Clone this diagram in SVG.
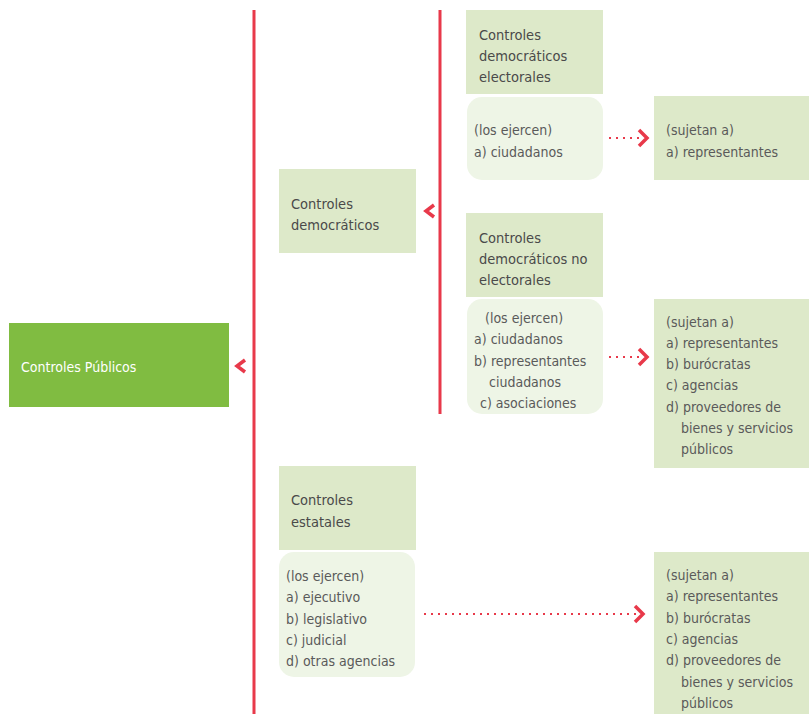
<svg xmlns="http://www.w3.org/2000/svg" width="809" height="714" viewBox="0 0 809 714">
<style>
.t{font-family:"DejaVu Sans Condensed","Liberation Sans Narrow",sans-serif;font-size:14px;fill:#5a5a5a}
.h{fill:#4a4a4a;font-size:14.5px}
.w{fill:#ffffff}
.hd{fill:#dde9c9}
.bd{fill:#eef5e6}
.vl{stroke:#e8394a;stroke-width:3;fill:none}
.dot{stroke:#e8394a;stroke-width:2;stroke-dasharray:2 5;fill:none}
.chev{stroke:#e8394a;stroke-width:3.5;fill:none}
</style>
<rect width="809" height="714" fill="#ffffff"/>
<g id="connectors">
<line class="vl" x1="254" y1="10" x2="254" y2="714"/>
<line class="vl" x1="440" y1="10" x2="440" y2="414"/>
<polyline class="chev" points="245,360 237,366 245,372"/>
<polyline class="chev" points="434,205 426,211 434,217"/>
<line class="dot" x1="609" y1="138" x2="644" y2="138"/>
<polyline class="chev" points="639,130 647,138 639,146"/>
<line class="dot" x1="609" y1="357" x2="644" y2="357"/>
<polyline class="chev" points="639,349 647,357 639,365"/>
<line class="dot" x1="424" y1="614" x2="640" y2="614"/>
<polyline class="chev" points="635,606 643,614 635,622"/>
</g>
<g id="publicos">
<rect x="9" y="323" width="220" height="84" fill="#80bc41"/>
<text class="t w" x="21" y="372">Controles Públicos</text>
</g>
<g id="democraticos">
<rect class="hd" x="279" y="169" width="137" height="84"/>
<text class="t h" x="291" y="209">Controles</text>
<text class="t h" x="291" y="230">democráticos</text>
</g>
<g id="electorales">
<rect class="hd" x="466" y="10" width="137" height="84"/>
<text class="t h" x="479" y="40">Controles</text>
<text class="t h" x="479" y="61">democráticos</text>
<text class="t h" x="479" y="82">electorales</text>
</g>
<g id="electorales-ejercen">
<rect class="bd" x="467" y="97" width="136" height="83" rx="15"/>
<text class="t" x="474" y="135">(los ejercen)</text>
<text class="t" x="474" y="157">a) ciudadanos</text>
</g>
<g id="electorales-sujetan">
<rect class="hd" x="654" y="96" width="155" height="84"/>
<text class="t" x="666" y="135">(sujetan a)</text>
<text class="t" x="666" y="157">a) representantes</text>
</g>
<g id="noelectorales">
<rect class="hd" x="466" y="213" width="137" height="84"/>
<text class="t h" x="479" y="243">Controles</text>
<text class="t h" x="479" y="264">democráticos no</text>
<text class="t h" x="479" y="285">electorales</text>
</g>
<g id="noelectorales-ejercen">
<rect class="bd" x="467" y="299" width="136" height="115" rx="15"/>
<text class="t" x="485" y="323">(los ejercen)</text>
<text class="t" x="474" y="344">a) ciudadanos</text>
<text class="t" x="474" y="366">b) representantes</text>
<text class="t" x="489" y="387">ciudadanos</text>
<text class="t" x="480" y="408">c) asociaciones</text>
</g>
<g id="noelectorales-sujetan">
<rect class="hd" x="654" y="299" width="155" height="169"/>
<text class="t" x="666" y="327">(sujetan a)</text>
<text class="t" x="666" y="348">a) representantes</text>
<text class="t" x="666" y="369">b) burócratas</text>
<text class="t" x="666" y="390">c) agencias</text>
<text class="t" x="666" y="412">d) proveedores de</text>
<text class="t" x="681" y="433">bienes y servicios</text>
<text class="t" x="681" y="454">públicos</text>
</g>
<g id="estatales">
<rect class="hd" x="279" y="466" width="137" height="84"/>
<text class="t h" x="291" y="505">Controles</text>
<text class="t h" x="291" y="527">estatales</text>
</g>
<g id="estatales-ejercen">
<rect class="bd" x="279" y="552" width="136" height="125" rx="15"/>
<text class="t" x="286" y="581">(los ejercen)</text>
<text class="t" x="286" y="602">a) ejecutivo</text>
<text class="t" x="286" y="624">b) legislativo</text>
<text class="t" x="286" y="645">c) judicial</text>
<text class="t" x="286" y="666">d) otras agencias</text>
</g>
<g id="estatales-sujetan">
<rect class="hd" x="654" y="552" width="155" height="162"/>
<text class="t" x="666" y="580">(sujetan a)</text>
<text class="t" x="666" y="601">a) representantes</text>
<text class="t" x="666" y="623">b) burócratas</text>
<text class="t" x="666" y="644">c) agencias</text>
<text class="t" x="666" y="665">d) proveedores de</text>
<text class="t" x="681" y="687">bienes y servicios</text>
<text class="t" x="681" y="708">públicos</text>
</g>
</svg>
